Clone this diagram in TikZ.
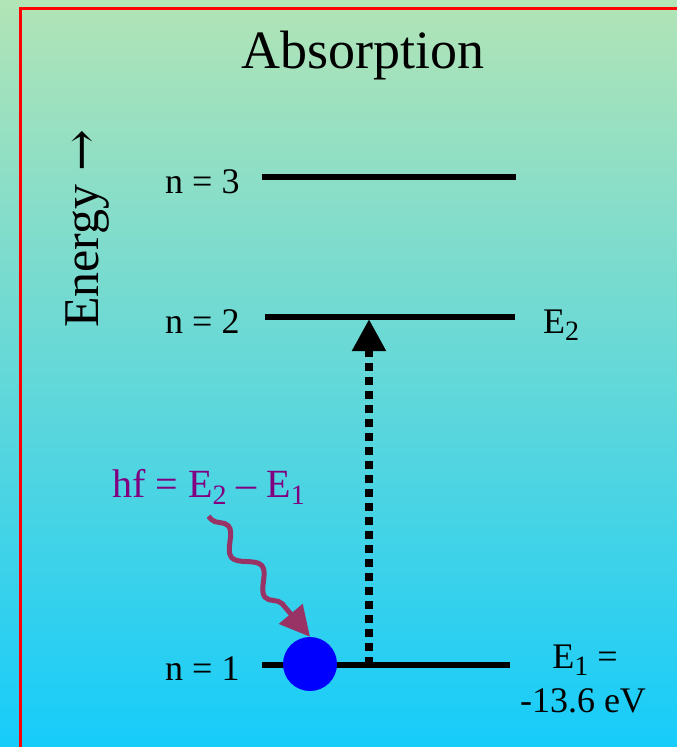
\documentclass[tikz,border=0pt]{standalone}
\usepackage{fontspec}
\setmainfont{Liberation Serif}
\newfontfamily\flechas{DejaVu Serif}
\usetikzlibrary{arrows.meta}
\usetikzlibrary{decorations.pathmorphing}
\definecolor{fondoArriba}{RGB}{178,228,182}
\definecolor{fondoMedio}{RGB}{110,216,222}
\definecolor{fondoAbajo}{RGB}{22,204,250}
\definecolor{marcoRojo}{RGB}{255,0,0}
\definecolor{fotonBorde}{RGB}{153,51,102}
\definecolor{fotonTexto}{RGB}{128,0,128}
\newcommand{\indice}[1]{\raisebox{-7pt}{\fontsize{28}{28}\selectfont #1}}
\tikzset{
  nivel/.style={line width=6pt, draw=black},
  etiqueta/.style={font=\fontsize{36}{40}\selectfont, inner sep=0pt, anchor=base west},
  titulo/.style={font=\fontsize{54}{60}\selectfont, inner sep=0pt, anchor=base},
  salto/.style={-{Triangle[length=32pt,width=32pt]}, line width=8pt, dash pattern=on 8pt off 6pt},
  foton/.style={-{Triangle[length=30pt,width=30pt]}, line width=5pt, draw=fotonBorde,
    decorate, decoration={snake, segment length=52pt, amplitude=9pt, pre length=4pt, post length=32pt}},
  electron/.style={circle, fill=blue, minimum size=54pt, inner sep=0pt}
}

\begin{document}
\begin{tikzpicture}[x=1pt, y=-1pt]
  \useasboundingbox (0,0) rectangle (677,747);
  % fondo y marco
  \shade[top color=fondoArriba, middle color=fondoMedio, bottom color=fondoAbajo] (0,0) rectangle (677,747);
  \draw[marcoRojo, line width=3pt] (20,770) -- (20,8) -- (700,8);

  \node[titulo] (tit) at (363,68) {Absorption};
  \node[etiqueta, anchor=base, rotate=90, font=\fontsize{50}{56}\selectfont] (energia) at (98,229) {Energy {\flechas →}};

  % niveles
  \draw[nivel] (262,177) -- (516,177);
  \draw[nivel] (265,317) -- (515,317);
  \draw[nivel] (262,665) -- (510,665);

  \node[etiqueta] (n3) at (165,193) {n = 3};
  \node[etiqueta] (n2) at (165,333) {n = 2};
  \node[etiqueta] (n1) at (165,680) {n = 1};
  \node[etiqueta] (e2) at (543,333) {E\indice{2}};
  \node[etiqueta, anchor=base] (e1) at (585,668) {E\indice{1} =};
  \node[etiqueta, anchor=base] (e1val) at (583,712) {-13.6 eV};

  % transición
  \coordinate (desde) at (369,665);
  \coordinate (hasta) at (369,319);
  \draw[salto] (desde) -- (hasta);

  % fotón absorbido
  \node[etiqueta, text=fotonTexto, font=\fontsize{40}{44}\selectfont] (hf) at (112,497) {hf = E\indice{2} – E\indice{1}};
  \node[electron] (e) at (310,664) {};
  \draw[foton] ([xshift=0pt,yshift=-12pt]hf.south) -- (e.north);
\end{tikzpicture}
\end{document}
